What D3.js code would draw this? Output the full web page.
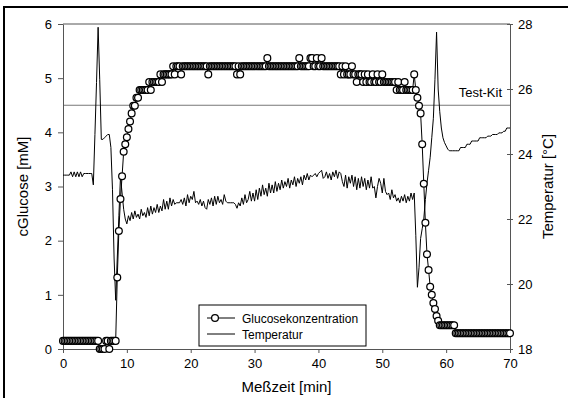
<!DOCTYPE html>
<html>
<head>
<meta charset="utf-8">
<script src="https://cdn.jsdelivr.net/npm/d3@7/dist/d3.min.js"></script>
<style>
  body { margin: 0; background: #fff; }
  svg { display: block; font-family: "Liberation Sans", Arial, sans-serif; }
</style>
</head>
<body>
<svg id="chart"></svg>
<script>
// sampling interval of the recording [min]
const sampleStep = 0.25;

// glucose concentration [mM], one value per sample (t = 0 ... 70 min)
const glucose = [
  .15,.15,.15,.15, .15,.15,.15,.15, .15,.15,.15,.15, .15,.15,.15,.15, .15,.15,.15,.15,
  .15,.15,.15,0, 0,0,0,.15, .15,0,.15,.15, .15,.15,1.32,2.18, 2.77,3.19,3.64,3.78,
  3.91,4.06,4.2,4.35, 4.49,4.49,4.64,4.64, 4.78,4.78,4.78,4.78, 4.78,4.78,4.93,4.78, 4.93,4.93,4.93,4.93,
  4.93,5.07,4.93,5.07, 5.07,5.07,5.07,5.07, 5.07,5.22,5.07,5.22, 5.22,5.22,5.07,5.22, 5.22,5.22,5.22,5.22,
  5.22,5.22,5.22,5.22, 5.22,5.22,5.22,5.22, 5.22,5.22,5.22,5.07, 5.22,5.22,5.22,5.22, 5.22,5.22,5.22,5.22,
  5.22,5.22,5.22,5.22, 5.22,5.22,5.22,5.22, 5.22,5.07,5.22,5.07, 5.22,5.22,5.22,5.22, 5.22,5.22,5.22,5.22,
  5.22,5.22,5.22,5.22, 5.22,5.22,5.22,5.22, 5.37,5.22,5.22,5.22, 5.22,5.22,5.22,5.22, 5.22,5.22,5.22,5.22,
  5.22,5.22,5.22,5.22, 5.22,5.22,5.22,5.22, 5.37,5.22,5.22,5.22, 5.22,5.22,5.22,5.37, 5.37,5.22,5.22,5.37,
  5.22,5.22,5.37,5.22, 5.22,5.22,5.22,5.22, 5.22,5.22,5.22,5.22, 5.22,5.22,5.07,5.22, 5.07,5.22,5.07,5.07,
  5.07,5.22,5.07,5.07, 4.93,5.07,5.07,5.07, 4.93,5.07,4.93,5.07, 4.93,4.93,5.07,4.93, 4.93,5.07,4.93,4.93,
  5.07,4.93,4.93,4.93, 4.93,4.93,4.93,4.93, 4.93,4.78,4.93,4.78, 4.78,4.78,4.93,4.78, 4.78,4.78,4.78,4.78,
  5.07,4.78,4.64,4.49, 4.35,3.78,3.05,2.33, 1.75,1.46,1.15,1.0, .85,.74,.61,.52, .44,.44,.44,.44,
  .44,.44,.44,.44, .44,.44,.29,.29, .29,.29,.29,.29, .29,.29,.29,.29, .29,.29,.29,.29,
  .29,.29,.29,.29, .29,.29,.29,.29, .29,.29,.29,.29, .29,.29,.29,.29, .29,.29,.29,.29,
  .29
];

// temperature [°C], same samples
const temperature = [
  23.35,23.35,23.35,23.35, 23.35,23.45,23.3,23.45, 23.3,23.45,23.3,23.45, 23.3,23.4,23.4,23.4, 23.4,23.4,23.4,23.05,
  24.6,26.2,27.9,26.3, 24.45,24.45,24.5,24.55, 24.6,24.6,24.2,22.9, 20.8,19.5,20.8,22.1, 23.3,22.8,22.3,22.0,
  21.85,22.1,21.95,22.2, 22.0,22.25,22.05,22.15, 22.0,22.3,22.1,22.2, 22.05,22.35,22.1,22.4, 22.15,22.35,22.2,22.45,
  22.2,22.4,22.25,22.6, 22.3,22.55,22.3,22.65, 22.4,22.6,22.45,22.5, 22.5,22.5,22.6,22.45, 22.65,22.4,22.75,22.5,
  22.7,22.6,22.85,22.5, 22.55,22.45,22.6,22.4, 22.55,22.35,22.3,22.6, 22.45,22.65,22.4,22.7, 22.45,22.7,22.5,22.6,
  22.45,22.75,22.55,22.5, 22.5,22.5,22.5,22.5, 22.45,22.33,22.5,22.4, 22.65,22.45,22.75,22.5, 22.6,22.85,22.55,22.8,
  22.55,22.9,22.6,22.95, 22.7,23.05,22.75,22.95, 22.7,23.1,22.8,23.05, 22.8,23.15,22.85,23.1, 22.9,23.2,22.95,23.15,
  23.0,23.25,22.95,23.2, 23.05,23.3,23.0,23.25, 23.1,23.3,23.05,23.35, 23.2,23.4,23.2,23.35, 23.3,23.35,23.4,23.3,
  23.4,23.45,23.5,23.25, 23.3,23.45,23.25,23.4, 23.2,23.45,23.3,23.5, 23.25,23.45,23.4,23.15, 23.0,23.35,22.95,23.3,
  23.1,23.35,23.0,23.3, 22.9,23.25,22.95,23.3, 23.0,23.25,22.9,23.2, 22.95,23.3,22.95,23.0, 22.65,23.0,23.25,23.1,
  22.8,23.25,22.85,22.75, 22.8,22.6,22.9,22.65, 22.75,22.55,22.65,22.5, 22.7,22.55,22.75,22.5, 22.7,22.55,22.8,22.6,
  22.8,21.5,19.9,20.5, 21.4,21.7,22.0,22.6, 23.1,23.5,23.9,24.5, 25.1,26.3,27.75,26.0, 25.3,24.8,24.5,24.35,
  24.25,24.15,24.1,24.1, 24.1,24.1,24.1,24.1, 24.1,24.2,24.2,24.2, 24.2,24.3,24.3,24.3, 24.4,24.4,24.4,24.4,
  24.4,24.5,24.5,24.5, 24.5,24.5,24.55,24.55, 24.55,24.6,24.6,24.6, 24.6,24.65,24.65,24.65, 24.7,24.7,24.8,24.8,
  24.8
];

const xTickValues = [0, 10, 20, 30, 40, 50, 60, 70];
const glucoseTickValues = [0, 1, 2, 3, 4, 5, 6];
const temperatureTickValues = [18, 20, 22, 24, 26, 28];
const testKitLevel = 4.5;
const testKitLabel = "Test-Kit";
const seriesNames = ["Glucosekonzentration", "Temperatur"];

const width = 568, height = 398;
const plot = {left: 63, right: 510, top: 24, bottom: 349};

const svg = d3.select("#chart").attr("width", width).attr("height", height);

const points = glucose.map((g, i) => ({t: i * sampleStep, g: g, T: temperature[i]}));

const x = d3.scaleLinear().domain([0, 70]).range([plot.left, plot.right]);
const yG = d3.scaleLinear().domain([0, 6]).range([plot.bottom, plot.top]);
const yT = d3.scaleLinear().domain([18, 28]).range([plot.bottom, plot.top]);

// outer frame
svg.append("rect")
  .attr("x", 4).attr("y", 7)
  .attr("width", width).attr("height", height)
  .attr("fill", "none").attr("stroke", "#000").attr("stroke-width", 2);

const axisColor = "#555";

// top border of the plot area
svg.append("line")
  .attr("x1", plot.left).attr("x2", plot.right)
  .attr("y1", plot.top).attr("y2", plot.top)
  .attr("stroke", axisColor);

// test kit reference
svg.append("line")
  .attr("x1", plot.left).attr("x2", plot.right)
  .attr("y1", yG(testKitLevel)).attr("y2", yG(testKitLevel))
  .attr("stroke", "#777").attr("stroke-width", 1.2);

svg.append("text")
  .attr("x", plot.right - 8).attr("y", yG(testKitLevel) - 8)
  .attr("text-anchor", "end")
  .attr("font-size", 13)
  .text(testKitLabel);

// axes
const styleAxis = g => {
  g.select(".domain").attr("stroke", axisColor);
  g.selectAll(".tick line").attr("stroke", axisColor);
  g.selectAll(".tick text").attr("font-size", 13).attr("fill", "#000")
    .attr("font-family", "Liberation Sans, Arial, sans-serif");
};

svg.append("g")
  .attr("transform", `translate(0,${plot.bottom})`)
  .call(d3.axisBottom(x).tickValues(xTickValues).tickSize(4).tickSizeOuter(0).tickPadding(6))
  .call(styleAxis);

svg.append("g")
  .attr("transform", `translate(${plot.left},0)`)
  .call(d3.axisLeft(yG).tickValues(glucoseTickValues).tickFormat(d3.format("d")).tickSize(5).tickSizeOuter(0).tickPadding(6))
  .call(styleAxis);

svg.append("g")
  .attr("transform", `translate(${plot.right},0)`)
  .call(d3.axisRight(yT).tickValues(temperatureTickValues).tickSize(3).tickSizeOuter(0).tickPadding(5))
  .call(styleAxis)
  .call(g => g.selectAll(".tick line").attr("x1", -3));

// axis titles
svg.append("text")
  .attr("x", (plot.left + plot.right) / 2).attr("y", 392)
  .attr("text-anchor", "middle").attr("font-size", 15)
  .text("Meßzeit [min]");

svg.append("text")
  .attr("transform", `translate(28,${(plot.top + plot.bottom) / 2}) rotate(-90)`)
  .attr("text-anchor", "middle").attr("font-size", 15)
  .text("cGlucose [mM]");

svg.append("text")
  .attr("transform", `translate(553,${(plot.top + plot.bottom) / 2}) rotate(-90)`)
  .attr("text-anchor", "middle").attr("font-size", 15)
  .text("Temperatur [°C]");

// temperature line
const tempLine = d3.line().x(d => x(d.t)).y(d => yT(d.T));
svg.append("path")
  .datum(points)
  .attr("fill", "none").attr("stroke", "#000").attr("stroke-width", 1)
  .attr("d", tempLine);

// glucose line + circles
const glucoseLine = d3.line().x(d => x(d.t)).y(d => yG(d.g));
svg.append("path")
  .datum(points)
  .attr("fill", "none").attr("stroke", "#000").attr("stroke-width", 1)
  .attr("d", glucoseLine);

svg.append("g")
  .selectAll("circle")
  .data(points)
  .join("circle")
  .attr("cx", d => x(d.t)).attr("cy", d => yG(d.g))
  .attr("r", 3.4)
  .attr("fill", "#fff").attr("stroke", "#000").attr("stroke-width", 1.25);

// legend
const legend = svg.append("g").attr("transform", "translate(199,305)");
legend.append("rect")
  .attr("width", 167).attr("height", 41)
  .attr("fill", "#fff").attr("stroke", "#000");

legend.selectAll("g.entry")
  .data(seriesNames)
  .join("g")
  .attr("class", "entry")
  .attr("transform", (d, i) => `translate(0,${13 + i * 16})`)
  .each(function(d, i) {
    const g = d3.select(this);
    g.append("line").attr("x1", 8).attr("x2", 36).attr("stroke", "#000");
    if (i === 0) {
      g.append("circle").attr("cx", 16).attr("r", 3.4)
        .attr("fill", "#fff").attr("stroke", "#000").attr("stroke-width", 1.25);
    }
    g.append("text").attr("x", 43).attr("y", 4.5)
      .attr("font-size", 12).text(d);
  });
</script>
</body>
</html>
